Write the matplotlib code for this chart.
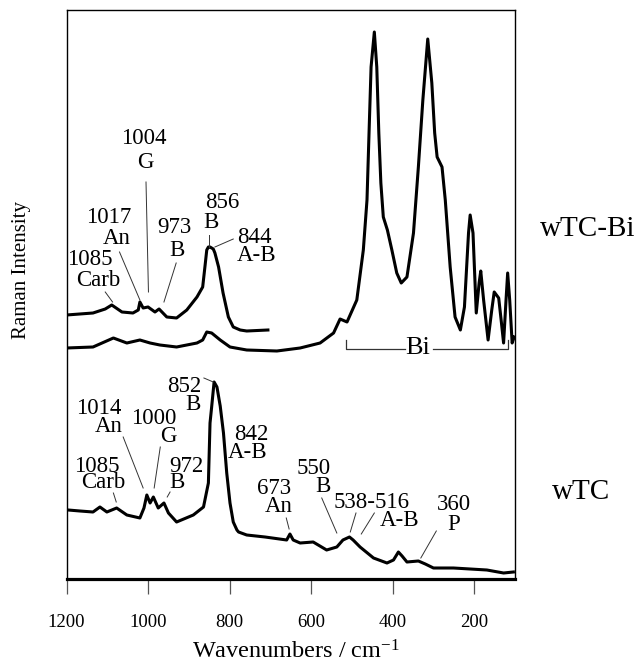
import matplotlib
matplotlib.use("Agg")
import matplotlib.pyplot as plt

plt.rcParams["font.family"] = ["Liberation Serif", "DejaVu Serif"]
plt.rcParams["mathtext.fontset"] = "custom"
plt.rcParams["mathtext.rm"] = "Liberation Serif"
plt.rcParams["mathtext.default"] = "regular"

# ---- spectra (wavenumber in cm-1, intensity in arbitrary offset units) ----
# wTC-Bi, 1200-700 cm-1 expanded trace
bi_zoom_wn = [1200, 1135, 1105, 1089, 1064, 1037, 1024, 1020, 1012, 1000, 983, 973,
              954, 930, 905, 880, 866, 860, 856, 852, 848, 840, 836, 827, 816, 803,
              791, 774, 758, 706]
bi_zoom_int = [264, 266, 270, 274, 267, 266, 269, 277, 271, 272, 267, 270,
               262, 261, 269, 282, 292, 314, 329, 332, 332, 330, 326, 312, 286, 262,
               252, 249, 248, 249]

# wTC-Bi, full range trace
bi_wn = [1200, 1135, 1085, 1052, 1020, 995, 971, 930, 880, 866, 856, 844, 823, 799,
         758, 684, 627, 578, 545, 529, 512, 488, 472, 463, 458, 453, 445, 439, 434,
         429, 423, 413, 402, 390, 379, 365, 349, 337, 326, 314, 304, 297, 291, 279,
         271, 259, 247, 234, 224, 214, 210, 203, 195, 188, 184, 177, 166, 157, 151,
         140, 134, 128, 122, 118, 113, 107, 102]
bi_int = [231, 232, 241, 236, 239, 236, 234, 232, 236, 239, 247, 246, 239, 232,
          229, 228, 231, 236, 246, 260, 257, 279, 329, 379, 446, 512, 547, 512, 446,
          396, 362, 349, 329, 306, 296, 302, 346, 412, 479, 540, 496, 446, 422, 412,
          379, 312, 262, 249, 272, 346, 364, 346, 266, 296, 308, 279, 239, 269, 287,
          281, 259, 236, 279, 306, 279, 236, 242]

# wTC trace
tc_wn = [1196, 1167, 1135, 1118, 1101, 1077, 1052, 1020, 1010, 1003, 995, 987,
         975, 961, 950, 930, 889, 864, 852, 848, 844, 838, 831, 823, 815, 807, 799,
         791, 782, 778, 758, 713, 660, 652, 644, 627, 595, 562, 537, 522, 506, 497,
         480, 447, 414, 398, 386, 377, 365, 337, 320, 300, 251, 169, 128, 104]
tc_int = [69, 68, 67, 72, 67, 71, 64, 61, 71, 84, 76, 82,
          71, 76, 66, 57, 64, 72, 96, 156, 172, 197, 192, 173, 146, 106, 76,
          57, 49, 47, 44, 42, 39, 45, 39, 36, 37, 29, 32, 39, 42, 39,
          32, 21, 16, 19, 27, 23, 17, 18, 15, 11, 11, 9, 6, 7]

# ---- peak assignments: (text, wavenumber, intensity) per text line ----
label_lines = [
    ("1004", 1011, 441), ("G", 1007, 417),
    ("1017", 1097, 362), ("An", 1077, 341),
    ("1085", 1142, 320), ("Carb", 1122, 299),
    ("973", 936, 352), ("B", 930, 329),
    ("856", 819, 377), ("B", 846, 357),
    ("844", 740, 342), ("A-B", 734, 324),
    ("852", 912, 192), ("B", 889, 174),
    ("1014", 1121, 171), ("An", 1097, 152),
    ("1000", 987, 161), ("G", 950, 142),
    ("1085", 1126, 112), ("Carb", 1110, 96),
    ("972", 905, 112), ("B", 930, 96),
    ("842", 747, 144), ("A-B", 755, 126),
    ("673", 690, 91), ("An", 680, 72),
    ("550", 593, 111), ("B", 570, 92),
    ("538-516", 451, 77), ("A-B", 382, 59),
    ("360", 249, 74), ("P", 251, 54),
]
leaders = [
    ((1005, 397), (999, 287)),
    ((1070, 327), (1020, 279)),
    ((1105, 287), (1087, 277)),
    ((931, 316), (961, 277)),
    ((850, 344), (850, 332)),
    ((791, 340), (836, 332)),
    ((863, 201), (840, 197)),
    ((1061, 142), (1012, 91)),
    ((970, 132), (985, 91)),
    ((1085, 86), (1078, 77)),
    ((946, 87), (953, 82)),
    ((661, 61), (654, 50)),
    ((574, 81), (537, 46)),
    ((490, 66), (504, 47)),
    ((445, 66), (477, 45)),
    ((293, 48), (331, 21)),
]

fig = plt.figure(figsize=(6.39, 6.68), dpi=100)
ax = fig.add_axes([66.5 / 639, 1 - 579 / 668, (515 - 66.5) / 639, 569 / 668])

lw = 2.2
ax.plot(bi_zoom_wn, bi_zoom_int, color="black", lw=lw, solid_joinstyle="round")
ax.plot(bi_wn, bi_int, color="black", lw=lw, solid_joinstyle="round")
ax.plot(tc_wn, tc_int, color="black", lw=lw, solid_joinstyle="round")

for txt, x, y in label_lines:
    ax.text(x, y, txt, ha="center", va="center", fontsize=16.5, color="black")
for (x0, y0), (x1, y1) in leaders:
    ax.plot([x0, x1], [y0, y1], color="#333333", lw=0.7)

# Bi bracket under the bismuth bands
ax.plot([514, 514, 370], [239, 230, 230], color="#333333", lw=0.9)
ax.plot([301, 116, 116], [230, 230, 239], color="#333333", lw=0.9)
ax.text(339, 231, "Bi", ha="center", va="center", fontsize=19, color="black")

ax.set_xlim(1200, 100)
ax.set_ylim(0, 569)
ax.set_xticks([1200, 1000, 800, 600, 400, 200])
ax.set_yticks([])
ax.tick_params(axis="x", direction="out", length=11, width=0.9, color="#555555",
               labelsize=13.5, pad=14)
for side in ("left", "top", "right"):
    ax.spines[side].set_linewidth(1.0)
ax.spines["bottom"].set_linewidth(2.3)

fig.text(296 / 639, 1 - 652 / 668, "Wavenumbers / cm$^{-1}$", ha="center",
         va="center", fontsize=17.5)
fig.text(21.7 / 639, 1 - 270 / 668, "Raman Intensity", rotation=90, ha="center",
         va="center", fontsize=15)
fig.text(588 / 639, 1 - 229 / 668, "wTC-Bi", ha="center", va="center", fontsize=21)
fig.text(581 / 639, 1 - 492 / 668, "wTC", ha="center", va="center", fontsize=21)

fig.savefig("out.png", dpi=100)
